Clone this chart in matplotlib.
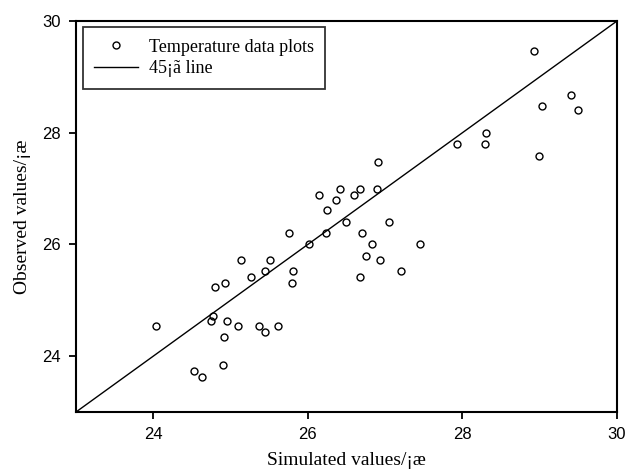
import matplotlib
matplotlib.use("Agg")
import matplotlib.pyplot as plt

simulated = [24.04, 24.53, 24.63, 24.80, 24.93, 24.77, 24.75, 24.96, 25.09, 24.91,
             24.90, 25.13, 25.27, 25.37, 25.45, 25.62, 25.45, 25.51, 25.81, 25.79,
             25.76, 26.01, 26.23, 26.15, 26.25, 26.36, 26.42, 26.60, 26.68, 26.49,
             26.90, 26.91, 26.70, 26.83, 26.75, 26.93, 26.68, 27.05, 27.20, 27.45,
             27.93, 28.29, 28.31, 28.93, 28.99, 29.03, 29.41, 29.49]
observed = [24.54, 23.73, 23.63, 25.23, 25.31, 24.71, 24.63, 24.63, 24.54, 24.34,
            23.84, 25.72, 25.42, 24.54, 24.44, 24.54, 25.52, 25.72, 25.52, 25.31,
            26.21, 26.01, 26.21, 26.89, 26.61, 26.80, 26.99, 26.89, 26.99, 26.41,
            26.99, 27.48, 26.21, 26.01, 25.80, 25.72, 25.42, 26.41, 25.52, 26.01,
            27.80, 27.80, 27.99, 29.47, 27.59, 28.48, 28.67, 28.40]
line_x = [23, 30]
line_y = [23, 30]
ticks = [24, 26, 28, 30]
tick_labels = ["24", "26", "28", "30"]

serif = ["Liberation Serif", "DejaVu Serif"]
sans = ["Liberation Sans", "DejaVu Sans"]

fig = plt.figure(figsize=(6.28, 4.70), dpi=100)
W, H = 628, 470
ax = fig.add_axes([76 / W, (H - 412) / H, 541 / W, 391 / H])

ax.plot(simulated, observed, linestyle="none", marker="o", markersize=5,
        markerfacecolor="none", markeredgecolor="black", markeredgewidth=1.0,
        label="Temperature data plots")
ax.plot(line_x, line_y, color="black", linewidth=1.0, label="45¡ã line")

ax.set_xlim(23, 30)
ax.set_ylim(23, 30)
ax.set_xticks(ticks)
ax.set_yticks(ticks)
ax.tick_params(direction="out", length=5, width=1.3, pad=6, top=False, right=False,
               labelsize=12)
ax.set_xticklabels(tick_labels, family=sans, fontsize=12)
ax.set_yticklabels(tick_labels, family=sans, fontsize=12)
for s in ax.spines.values():
    s.set_linewidth(1.5)

ax.set_xlabel("Simulated values/¡æ", family=serif, fontsize=14, labelpad=7)
ax.set_ylabel("Observed values/¡æ", family=serif, fontsize=14, labelpad=8)

leg = ax.legend(loc="upper left", bbox_to_anchor=(6.7 / 541, 1 - 6 / 391),
                borderaxespad=0, prop={"family": serif, "size": 13},
                frameon=True, fancybox=False, edgecolor="black",
                handlelength=2.4, handletextpad=0.6, labelspacing=0.25,
                borderpad=0.65, numpoints=1)
leg.get_frame().set_linewidth(1.3)

fig.savefig("out.png", dpi=100)
